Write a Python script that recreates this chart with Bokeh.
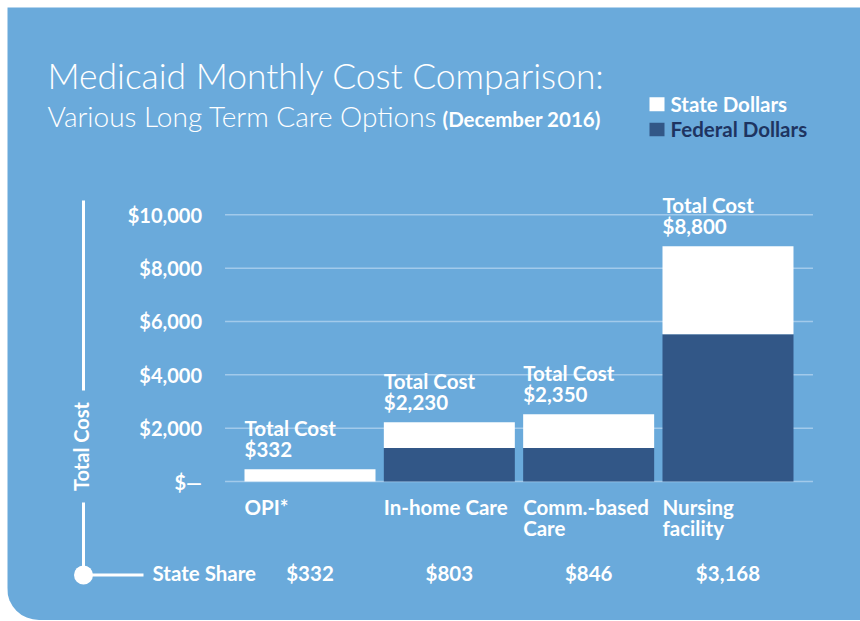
import math
from bokeh.plotting import figure
from bokeh.models import Range1d, Label, ColumnDataSource
from bokeh.core.properties import value
from bokeh.embed import file_html
from bokeh.resources import INLINE

# ---------------- data ----------------
categories = ["OPI*", "In-home Care", "Comm.-based\nCare", "Nursing\nfacility"]
federal_dollars = [0, 1260, 1260, 5520]       # drawn height of the dark segment
state_dollars = [455, 965, 1260, 3300]        # drawn height of the white segment
total_cost_labels = ["$332", "$2,230", "$2,350", "$8,800"]
state_share_labels = ["$332", "$803", "$846", "$3,168"]
y_ticks = [0, 2000, 4000, 6000, 8000, 10000]
y_tick_labels = ["$\u2014", "$2,000", "$4,000", "$6,000", "$8,000", "$10,000"]

# ---------------- styling ----------------
BLUE = "#6aaadb"
NAVY = "#325787"
NAVY_TEXT = "#1e3461"
GRID = "#a2caeb"
WHITE = "#ffffff"
FONT_NAME = "Lato"
LIGHT_NAME = "Lato Light, Lato"
FONT = value(FONT_NAME)
LBL = "20.5px"

OFF = 7                      # page offset of the panel
W, H = 853, 613
PX_PER_CAT = 139.33
PX_PER_DOLLAR = 26.67 / 1000.0
CAT0_PX = 309.5 - OFF        # canvas x of first category centre
ZERO_PY = 481 - OFF          # canvas y (from top) of $0
X_START = -CAT0_PX / PX_PER_CAT
X_END = X_START + W / PX_PER_CAT
Y_TOP = ZERO_PY / PX_PER_DOLLAR
Y_BOTTOM = -(H - ZERO_PY) / PX_PER_DOLLAR
BAR_W = 131 / PX_PER_CAT


def px2x(px):
    return X_START + (px - OFF) / PX_PER_CAT


def py2y(py):
    return (ZERO_PY - (py - OFF)) / PX_PER_DOLLAR


def sx(px):
    return px - OFF


def sy(py):
    return H - (py - OFF)


p = figure(width=W, height=H, output_backend="svg", toolbar_location=None,
           x_range=Range1d(X_START, X_END), y_range=Range1d(Y_BOTTOM, Y_TOP),
           x_axis_location=None, y_axis_location=None, min_border=0, tools="")
p.grid.visible = False
p.outline_line_color = None
p.background_fill_color = BLUE
p.border_fill_color = BLUE
p.styles = {"margin-left": f"{OFF}px", "margin-top": f"{OFF}px",
            "border-radius": "0px 0px 0px 32px", "overflow": "hidden"}

xs = list(range(len(categories)))
line1 = [c.split("\n")[0] for c in categories]
line2 = [c.split("\n")[1] if "\n" in c else "" for c in categories]
totals = [f + s for f, s in zip(federal_dollars, state_dollars)]
src = ColumnDataSource(dict(
    x=xs, left=[x - BAR_W / 2 for x in xs], federal=federal_dollars, state=state_dollars,
    total=totals, tl=total_cost_labels, ss=state_share_labels, c1=line1, c2=line2,
    tc=["Total Cost"] * len(xs), zero=[0] * len(xs)))

# grid lines
g_left = -0.61
g_right = len(categories) - 1 + 0.61
p.segment(x0=g_left, x1=g_right, y0=y_ticks, y1=y_ticks, line_color=GRID, line_width=1.5)

# stacked bars
p.vbar_stack(["federal", "state"], x="x", width=BAR_W, source=src,
             fill_color=[NAVY, WHITE], line_color=None)

# y tick labels
p.text(x=g_left, y=y_ticks, text=y_tick_labels, x_offset=-23, y_offset=0,
       text_align="right", text_baseline="alphabetic", text_font=FONT,
       text_font_style="bold", text_font_size="20px", text_color=WHITE)

# total cost labels above bars
common = dict(text_align="left", text_baseline="alphabetic", text_font=FONT,
              text_font_style="bold", text_font_size=LBL, text_color=WHITE, source=src)
p.text(x="left", y="total", text="tc", y_offset=-41.5, **common)
p.text(x="left", y="total", text="tl", y_offset=-20.5, **common)

# category labels
p.text(x="left", y="zero", text="c1", y_offset=25, **common)
p.text(x="left", y="zero", text="c2", y_offset=46.5, **common)

# state share row
p.text(x="x", y="zero", text="ss", y_offset=91.5, text_align="center", text_baseline="alphabetic",
       text_font=FONT, text_font_style="bold", text_font_size=LBL, text_color=WHITE, source=src)

# decorative axis line with circle
p.line(x=[px2x(83), px2x(83)], y=[py2y(200), py2y(390)], line_color=WHITE, line_width=3)
p.line(x=[px2x(83), px2x(83)], y=[py2y(502), py2y(574)], line_color=WHITE, line_width=3)
p.line(x=[px2x(83), px2x(143)], y=[py2y(574.5), py2y(574.5)], line_color=WHITE, line_width=3)
p.scatter(x=[px2x(83)], y=[py2y(574.5)], size=19, marker="circle", fill_color=WHITE, line_color=None)

# legend squares
p.quad(left=[px2x(649)], right=[px2x(664)], top=[py2y(96.7)], bottom=[py2y(110.7)],
       fill_color=WHITE, line_color=None)
p.quad(left=[px2x(649)], right=[px2x(664)], top=[py2y(122.3)], bottom=[py2y(135.7)],
       fill_color=NAVY, line_color=None)


def lab(text, px, py, size, color=WHITE, font=FONT_NAME, style="normal", angle=0, align="left",
        baseline="alphabetic"):
    p.add_layout(Label(x=sx(px), y=sy(py), x_units="screen", y_units="screen", text=text,
                       text_font=font, text_font_size=size, text_font_style=style,
                       text_color=color, angle=angle, text_align=align,
                       text_baseline=baseline))


lab("Medicaid Monthly Cost Comparison:", 47, 74.5, "35.4px", font=LIGHT_NAME)
lab("Various Long Term Care Options", 47, 115, "28px", font=LIGHT_NAME)
lab("(December 2016)", 442, 118.5, "20.5px", style="bold")
lab("State Dollars", 670, 103, LBL, style="bold")
lab("Federal Dollars", 670, 128, LBL, style="bold", color=NAVY_TEXT)
lab("Total Cost", 80.5, 446, "20px", style="bold", angle=math.pi / 2, align="center",
    baseline="middle")
lab("State Share", 152, 572.5, LBL, style="bold")

open("out.html", "w").write(file_html(p, INLINE))
